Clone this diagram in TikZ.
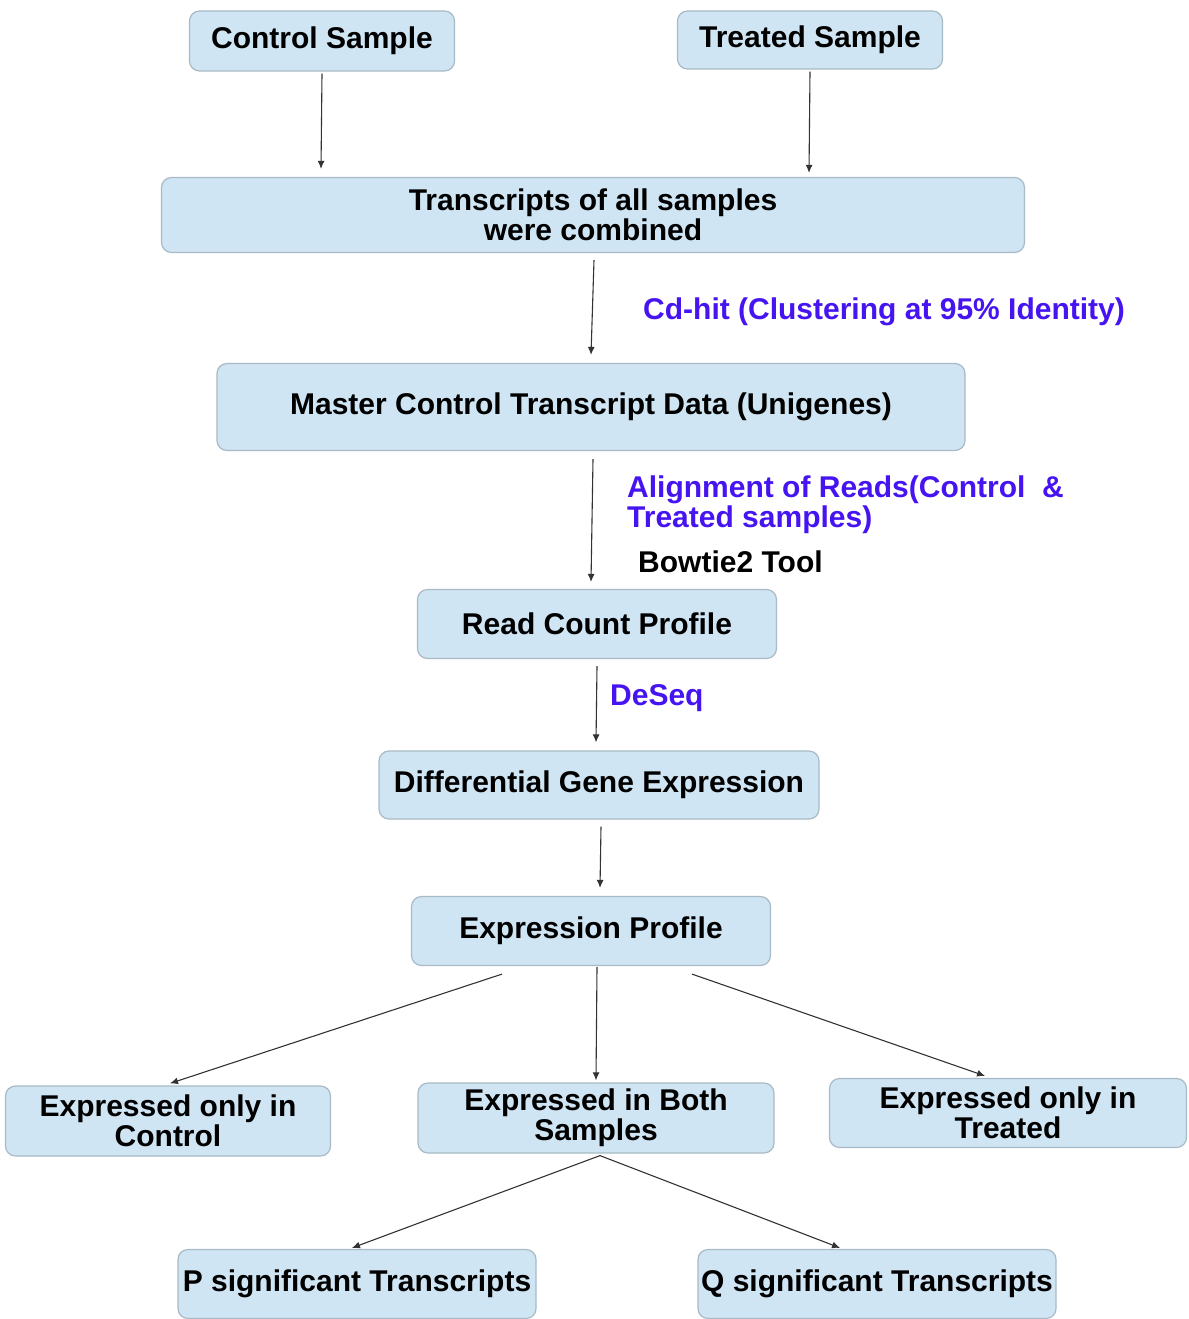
\documentclass[tikz,border=0pt]{standalone}
\usepackage{fontspec}
\setmainfont{Liberation Sans}
\usetikzlibrary{arrows.meta,calc}
\definecolor{boxfill}{RGB}{207,229,243}
\definecolor{boxline}{RGB}{168,186,198}
\definecolor{lbl}{RGB}{70,20,240}
\tikzset{
  box/.style={draw=boxline,line width=1.2pt,fill=boxfill,rounded corners=10pt,
    inner sep=0pt,align=center,font=\fontsize{30}{30}\selectfont\bfseries},
  conn/.style={draw=black!80,line width=1.1pt,-{Latex[length=8pt,width=7pt]}},
  note/.style={anchor=west,inner sep=0pt,align=left,font=\fontsize{30}{30}\selectfont\bfseries},
}
\begin{document}
\begin{tikzpicture}[x=1pt,y=-1pt]
\useasboundingbox (0,0) rectangle (1188,1319);
\node[box,minimum width=265pt,minimum height=60pt] (cs) at (322,41) {Control Sample};
\node[box,minimum width=265pt,minimum height=58pt] (ts) at (810,40) {Treated Sample};
\node[box,minimum width=863pt,minimum height=75pt] (tr) at (593,215) {Transcripts of all samples\\were combined};
\node[box,minimum width=748pt,minimum height=87pt] (mc) at (591,407) {Master Control Transcript Data (Unigenes)};
\node[box,minimum width=359pt,minimum height=69pt] (rc) at (597,624) {Read Count Profile};
\node[box,minimum width=440pt,minimum height=68pt] (de) at (599,785) {Differential Gene Expression};
\node[box,minimum width=359pt,minimum height=69pt] (ep) at (591,931) {Expression Profile};
\node[box,minimum width=325pt,minimum height=70pt] (oc) at (168,1121) {Expressed only in\\Control};
\node[box,minimum width=356pt,minimum height=70pt] (eb) at (596,1118) {Expressed in Both\\Samples};
\node[box,minimum width=357pt,minimum height=69pt] (ot) at (1008,1113) {Expressed only in\\Treated};
\node[box,minimum width=358pt,minimum height=69pt] (ps) at (357,1284) {P significant Transcripts};
\node[box,minimum width=358pt,minimum height=69pt] (qs) at (877,1284) {Q significant Transcripts};

\node[note,text=lbl] (l1) at (643,312) {Cd-hit (Clustering at 95\% Identity)};
\node[note,text=lbl] (l2) at (627,505) {Alignment of Reads(Control\ \ \&\\Treated samples)};
\node[note] (l3) at (638,562) {Bowtie2 Tool};
\node[note,text=lbl] (l4) at (610,698) {DeSeq};

\draw[conn] ([yshift=-2pt]cs.south) -- ([xshift=-1pt,yshift=8pt]tr.north -| cs.south);
\draw[conn] ([yshift=-2pt]ts.south) -- ([xshift=-1pt,yshift=4pt]tr.north -| ts.south);
\draw[conn] ($(tr.south)+(1,7)$) -- ($(mc.north)+(0,-8)$);
\draw[conn] ($(mc.south)+(2,8)$) -- ($(rc.north)+(-6,-7)$);
\draw[conn] ($(rc.south)+(0,7)$) -- ($(de.north)+(-3,-8)$);
\draw[conn] ($(de.south)+(2,7)$) -- ($(ep.north)+(9,-8)$);
\draw[conn] ($(ep.south)+(-89,8)$) -- ($(oc.north)+(2,-2)$);
\draw[conn] ($(ep.south)+(6,1)$) -- ($(eb.north)+(0,-2)$);
\draw[conn] ($(ep.south)+(101,8)$) -- ($(ot.north)+(-23,-2)$);
\draw[conn] ($(eb.south)+(4,2)$) -- ($(ps.north)+(-5,-1)$);
\draw[conn] ($(eb.south)+(4,2)$) -- ($(qs.north)+(-37,-1)$);
\end{tikzpicture}
\end{document}
